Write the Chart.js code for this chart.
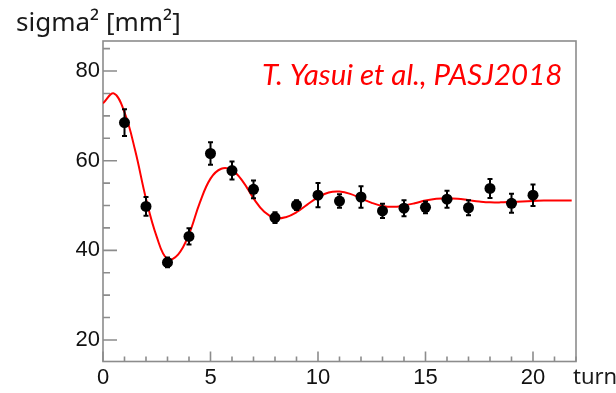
<!DOCTYPE html>
<html>
<head>
<meta charset="utf-8">
<title>sigma2 vs turn</title>
<script src="https://cdn.jsdelivr.net/npm/chart.js@4/dist/chart.umd.min.js"></script>
<style>
  html, body { margin: 0; padding: 0; background: #fff; }
  #wrap { width: 616px; height: 393px; }
</style>
</head>
<body>
<div id="wrap"><canvas id="chart" width="616" height="393"></canvas></div>
<script>
// measured beam width squared per turn, with errors
const turns = [1, 2, 3, 4, 5, 6, 7, 8, 9, 10, 11, 12, 13, 14, 15, 16, 17, 18, 19, 20];
const sigma2 = [68.5, 49.8, 37.3, 43.1, 61.6, 57.8, 53.6, 47.3, 50.1, 52.3,
                51.0, 51.9, 48.8, 49.4, 49.6, 51.4, 49.5, 53.8, 50.5, 52.3];
const sigma2Err = [3.0, 2.1, 1.1, 1.8, 2.5, 2.0, 2.0, 1.2, 1.1, 2.7,
                   1.5, 2.4, 1.6, 1.8, 1.3, 1.9, 1.7, 2.1, 2.1, 2.4];

// fitted curve, sampled every half turn
const fitTurns = [0, 0.5, 1, 1.5, 2, 2.5, 3, 3.5, 4, 4.5, 5, 5.5, 6, 6.5, 7, 7.5, 8, 8.5, 9, 9.5,
                  10, 10.5, 11, 11.5, 12, 12.5, 13, 13.5, 14, 14.5, 15, 15.5, 16, 16.5, 17, 17.5,
                  18, 18.5, 19, 19.5, 20, 20.5, 21, 21.5, 21.8];
const fitSigma2 = [72.8, 75.0, 70.8, 62.2, 51.5, 43.0, 38.0, 39.1, 43.6, 50.6, 56.0, 58.2, 57.9, 55.4,
                   51.6, 48.6, 47.2, 47.4, 48.5, 50.2, 51.8, 52.9, 53.1, 52.6, 51.6, 50.6, 49.9, 49.7,
                   50.0, 50.5, 51.1, 51.5, 51.6, 51.5, 51.2, 50.9, 50.7, 50.7, 50.8, 50.9, 51.0, 51.1,
                   51.1, 51.1, 51.1];

const xTicks = [0, 5, 10, 15, 20];
const yTicks = [20, 40, 60, 80];

const FRAME = '#8c8c8c';

// frame with inward ticks, error bars and the text labels
const decorations = {
    id: 'decorations',
    beforeDatasetsDraw(chart) {
        const { ctx, chartArea: a, scales: { x, y } } = chart;
        ctx.save();
        ctx.strokeStyle = FRAME;
        ctx.lineWidth = 1.6;
        ctx.strokeRect(a.left, a.top, a.right - a.left, a.bottom - a.top);

        ctx.beginPath();
        for (let t = 0; t <= 22; t++) {
            const px = x.getPixelForValue(t);
            const len = t % 5 === 0 ? 10 : 5;
            ctx.moveTo(px, a.bottom);
            ctx.lineTo(px, a.bottom - len);
        }
        for (let v = 20; v <= 85; v += 5) {
            const py = y.getPixelForValue(v);
            const len = v % 20 === 0 ? 14 : 7;
            ctx.moveTo(a.left, py);
            ctx.lineTo(a.left + len, py);
        }
        ctx.stroke();
        ctx.restore();
    },
    afterDatasetsDraw(chart) {
        const { ctx, scales: { x, y } } = chart;
        ctx.save();
        ctx.strokeStyle = '#000';
        ctx.lineWidth = 2;
        ctx.beginPath();
        turns.forEach((t, i) => {
            const px = x.getPixelForValue(t);
            const top = y.getPixelForValue(sigma2[i] + sigma2Err[i]);
            const bot = y.getPixelForValue(sigma2[i] - sigma2Err[i]);
            ctx.moveTo(px, top);
            ctx.lineTo(px, bot);
            ctx.moveTo(px - 2.5, top);
            ctx.lineTo(px + 2.5, top);
            ctx.moveTo(px - 2.5, bot);
            ctx.lineTo(px + 2.5, bot);
        });
        ctx.stroke();
        ctx.restore();
    },
    afterDraw(chart) {
        const { ctx } = chart;
        ctx.save();
        ctx.fillStyle = '#1a1a1a';
        ctx.textBaseline = 'alphabetic';
        ctx.font = '26px "Noto Sans"';
        ctx.fillText('sigma² [mm²]', 16, 31);
        ctx.font = '22px "Noto Sans"';
        ctx.fillText('turn', 573, 384);

        ctx.fillStyle = '#ff0000';
        ctx.font = 'italic 29.5px Lato';
        ctx.fillText('T. Yasui et al., PASJ2018', 262, 85);
        ctx.restore();
    }
};

const tickFont = { family: '"Liberation Sans", Arial, sans-serif', size: 22 };

new Chart(document.getElementById('chart'), {
    type: 'scatter',
    data: {
        datasets: [
            {
                label: 'data',
                data: turns.map((t, i) => ({ x: t, y: sigma2[i] })),
                backgroundColor: '#000',
                borderColor: '#000',
                pointRadius: 5.5,
                pointBorderWidth: 0,
            },
            {
                label: 'fit',
                data: fitTurns.map((t, i) => ({ x: t, y: fitSigma2[i] })),
                showLine: true,
                borderColor: '#ff0000',
                borderWidth: 2,
                pointRadius: 0,
                tension: 0.4,
            }
        ]
    },
    options: {
        responsive: false,
        devicePixelRatio: 1,
        animation: false,
        layout: { padding: { top: 41, right: 40, left: 0, bottom: 0 } },
        plugins: { legend: { display: false }, tooltip: { enabled: false } },
        scales: {
            x: {
                type: 'linear',
                min: 0,
                max: 22,
                afterFit(scale) { scale.height = 31.5; },
                afterBuildTicks(scale) { scale.ticks = xTicks.map(v => ({ value: v })); },
                grid: { display: false, drawTicks: false },
                border: { display: false },
                ticks: { font: tickFont, color: '#111', padding: 3, maxRotation: 0 }
            },
            y: {
                type: 'linear',
                min: 15.2,
                max: 86.7,
                afterFit(scale) { scale.width = 103; },
                afterBuildTicks(scale) { scale.ticks = yTicks.map(v => ({ value: v })); },
                grid: { display: false, drawTicks: false },
                border: { display: false },
                ticks: { font: tickFont, color: '#111', padding: 3 }
            }
        }
    },
    plugins: [decorations]
});
</script>
</body>
</html>
